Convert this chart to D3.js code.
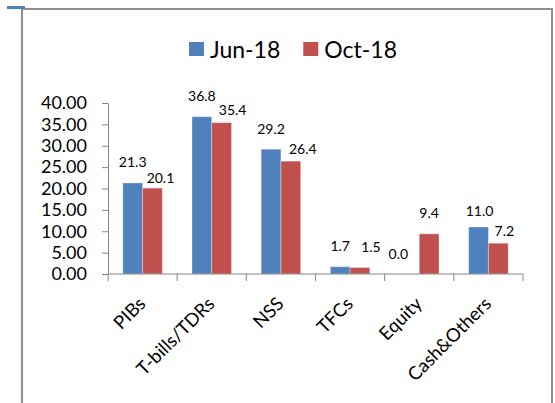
<!DOCTYPE html>
<html>
<head>
<meta charset="utf-8">
<script src="https://cdn.jsdelivr.net/npm/d3@7"></script>
<style>
  body { margin: 0; background: #fff; }
  svg { display: block; font-family: Lato, "Open Sans", sans-serif; }
</style>
</head>
<body>
<script>
// chart data
const categories = ["PIBs", "T-bills/TDRs", "NSS", "TFCs", "Equity", "Cash&Others"];
const seriesNames = ["Jun-18", "Oct-18"];
const jun18 = [21.3, 36.8, 29.2, 1.7, 0.0, 11.0];
const oct18 = [20.1, 35.4, 26.4, 1.5, 9.4, 7.2];
const yTicks = [0, 5, 10, 15, 20, 25, 30, 35, 40];

const colors = ["#4F81BD", "#C0504D"];
const W = 555, H = 403;

const svg = d3.select("body").append("svg")
  .attr("width", W)
  .attr("height", H);

// outer frame (top, left, right only - bottom is cut off)
svg.append("path")
  .attr("d", `M22,${H} L22,9 L552,9 L552,${H}`)
  .attr("fill", "none")
  .attr("stroke", "#8f8f8f")
  .attr("stroke-width", 2);
svg.append("rect")
  .attr("x", 7).attr("y", 6).attr("width", 18).attr("height", 3)
  .attr("fill", "#4F81BD");

const plot = { left: 108, right: 523, top: 103, bottom: 274 };

const x0 = d3.scaleBand()
  .domain(categories)
  .range([plot.left, plot.right])
  .paddingInner(0).paddingOuter(0);

const x1 = d3.scaleBand()
  .domain(seriesNames)
  .range([0, x0.bandwidth()])
  .paddingInner(0).paddingOuter(0.75);

const y = d3.scaleLinear()
  .domain([0, 40])
  .range([plot.bottom, plot.top]);

const rows = categories.map((c, i) => ({
  cat: c,
  vals: [
    { s: seriesNames[0], v: jun18[i], k: 0 },
    { s: seriesNames[1], v: oct18[i], k: 1 }
  ]
}));

// y axis
const yAxis = svg.append("g")
  .attr("transform", `translate(${plot.left},0)`)
  .call(d3.axisLeft(y).tickValues(yTicks).tickFormat(d3.format(".2f"))
    .tickSize(6).tickPadding(15).tickSizeOuter(0));
yAxis.select(".domain").attr("stroke", "#868686");
yAxis.selectAll(".tick line").attr("stroke", "#868686");
yAxis.selectAll(".tick text")
  .attr("fill", "#000")
  .style("font-size", "18px")
  .style("font-family", "Lato, sans-serif");

// bars
const groups = svg.selectAll("g.cat")
  .data(rows)
  .join("g")
  .attr("class", "cat")
  .attr("transform", d => `translate(${x0(d.cat)},0)`);

groups.selectAll("rect")
  .data(d => d.vals)
  .join("rect")
  .attr("x", d => x1(d.s))
  .attr("y", d => y(d.v))
  .attr("width", x1.bandwidth())
  .attr("height", d => y(0) - y(d.v))
  .attr("fill", d => colors[d.k])
  .attr("stroke", "rgba(255,255,255,0.35)")
  .attr("stroke-width", 1);

// data labels; small nudges where the original labels were moved by hand
const nudge = {
  "PIBs|1": [8, 10], "T-bills/TDRs|1": [11, 8], "NSS|1": [12, 8],
  "TFCs|1": [11, 0], "Equity|0": [-11, 0], "Cash&Others|0": [1, 5], "Cash&Others|1": [6, 8.5]
};
groups.selectAll("text.lbl")
  .data(d => d.vals.map(v => ({ ...v, cat: d.cat })))
  .join("text")
  .attr("class", "lbl")
  .attr("x", d => x1(d.s) + x1.bandwidth() / 2 + (nudge[d.cat + "|" + d.k] || [0, 0])[0])
  .attr("y", d => y(d.v) - 15.5 + (nudge[d.cat + "|" + d.k] || [0, 0])[1])
  .attr("text-anchor", "middle")
  .style("font-size", "14px")
  .attr("fill", "#000")
  .text(d => d3.format(".1f")(d.v));

// x axis with ticks at the category boundaries
const xAxis = svg.append("g");
xAxis.append("line")
  .attr("x1", plot.left).attr("x2", plot.right)
  .attr("y1", plot.bottom).attr("y2", plot.bottom)
  .attr("stroke", "#868686");
xAxis.selectAll("line.tk")
  .data(categories.concat(["end"]))
  .join("line")
  .attr("class", "tk")
  .attr("x1", (d, i) => plot.left + i * x0.step())
  .attr("x2", (d, i) => plot.left + i * x0.step())
  .attr("y1", plot.bottom).attr("y2", plot.bottom + 7)
  .attr("stroke", "#868686");

xAxis.selectAll("text")
  .data(categories)
  .join("text")
  .attr("transform", d => `translate(${x0(d) + x0.bandwidth() / 2 + 4},${plot.bottom + 31}) rotate(-45)`)
  .attr("text-anchor", "end")
  .style("font-size", "18.5px")
  .attr("fill", "#000")
  .text(d => d);

// legend
const legend = svg.append("g").attr("transform", "translate(189,0)");
let lx = 0;
seriesNames.forEach((s, i) => {
  legend.append("rect")
    .attr("x", lx).attr("y", 42).attr("width", 15).attr("height", 14)
    .attr("fill", colors[i]);
  const t = legend.append("text")
    .attr("x", lx + 21).attr("y", 57.5)
    .style("font-size", "23px")
    .attr("fill", "#000")
    .text(s);
  lx += 21 + t.node().getComputedTextLength() + 23;
});
</script>
</body>
</html>
